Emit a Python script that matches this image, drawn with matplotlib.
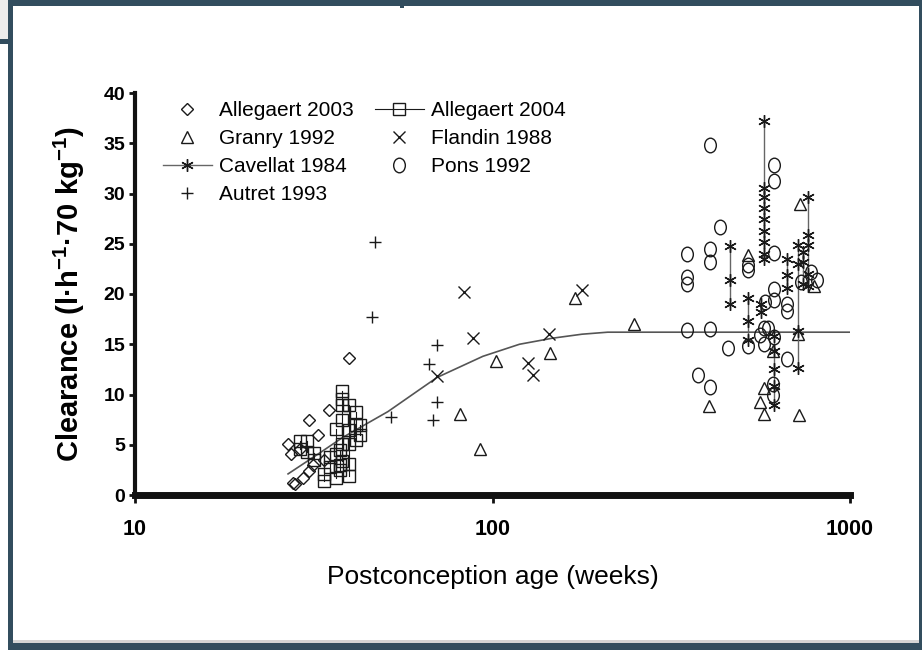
import matplotlib
matplotlib.use("Agg")
import matplotlib.pyplot as plt
import numpy as np
from matplotlib.patches import Rectangle
from matplotlib.path import Path
from matplotlib.ticker import FixedLocator, NullLocator, FixedFormatter

plt.rcParams['font.family'] = ['Liberation Sans', 'DejaVu Sans']
plt.rcParams['mathtext.default'] = 'regular'

# ---- data (postconception age in weeks, clearance in l/h/70kg) ----
allegaert2003_age = [39.6, 30.7, 34.8, 26.8, 27.7, 29.6, 32.6, 33.7, 30.7, 27.3, 29.0, 31.5, 28.0]
allegaert2003_cl = [13.6, 7.5, 8.5, 5.1, 1.2, 1.7, 6.0, 3.5, 2.4, 4.1, 4.6, 3.0, 1.1]

# repeated measures per patient, joined by a line
allegaert2004_age = [29.0, 30.2, 33.7, 38.0, 39.6, 41.4, 42.7, 36.6, 35.0, 37.5, 31.6]
allegaert2004_cl = [[5.4, 4.6], [5.4, 4.3], [1.4, 2.1], [10.3, 9.6, 9.0, 7.5, 5.1, 3.4],
                    [9.0, 6.5, 5.1, 3.1, 1.9], [8.3, 7.0, 5.5], [7.0, 6.0], [6.6, 4.1, 1.7],
                    [3.8, 2.8], [4.5, 3.0, 2.5], [4.2, 3.5]]

granry_age = [102, 81, 92, 145, 170, 248, 402, 559, 575, 575, 720, 520, 724, 795, 610, 715]
granry_cl = [13.3, 8.1, 4.6, 14.1, 19.6, 17.0, 8.9, 9.3, 10.6, 8.1, 8.0, 23.9, 29.0, 20.8, 14.3, 16.0]

flandin_age = [83, 88, 70, 126, 130, 144, 178]
flandin_cl = [20.2, 15.6, 11.8, 13.1, 11.9, 16.0, 20.4]

cavellat_age = [575, 461, 520, 565, 612, 665, 715, 765, 740]
cavellat_cl = [[37.2, 30.5, 29.7, 28.6, 27.5, 26.3, 25.2, 24.0, 23.5], [24.8, 21.4, 19.0],
               [19.6, 17.3, 15.4], [19.0, 18.2], [15.8, 14.3, 12.5, 10.8, 9.0],
               [23.5, 21.9, 20.6], [24.9, 23.0, 16.3, 12.6], [29.7, 25.9, 24.9, 22.0, 20.8],
               [24.2, 23.2, 21.0]]

pons_age = [405, 612, 612, 432, 350, 350, 350, 405, 405, 520, 612, 350, 405, 455, 520, 575, 590,
            612, 612, 612, 665, 665, 575, 665, 376, 405, 608, 608, 730, 520, 578, 560, 780, 810]
pons_cl = [34.8, 32.8, 31.2, 26.7, 24.0, 21.7, 21.0, 24.5, 23.2, 22.4, 24.1, 16.4, 16.5, 14.6, 14.8,
           16.6, 16.6, 15.7, 20.5, 19.4, 19.0, 18.3, 15.0, 13.5, 11.9, 10.7, 11.0, 10.0, 21.2, 22.9,
           19.2, 15.9, 22.2, 21.4]

autret_age = [47, 46, 70, 66.5, 70, 68, 52]
autret_cl = [25.2, 17.7, 14.9, 13.0, 9.3, 7.5, 7.8]

# maturation curve
fit_age = [26.8, 32.6, 38, 44.5, 51, 62, 70, 94, 119, 147, 178, 210, 1000]
fit_cl = [2.1, 4.1, 5.7, 7.1, 8.3, 10.4, 11.7, 13.8, 15.0, 15.6, 16.0, 16.2, 16.2]

x_ticks = [10, 100, 1000]
x_ticklabels = ['10', '100', '1000']
y_ticks = [0, 5, 10, 15, 20, 25, 30, 35, 40]

W, H = 922, 650
fig = plt.figure(figsize=(W / 100, H / 100), dpi=100)
fig.patch.set_facecolor('white')

# window frame around the figure
frame_col = '#324d5e'
def px_rect(x0, y0, x1, y1, color, z=10):
    fig.patches.append(Rectangle((x0 / W, 1 - y1 / H), (x1 - x0) / W, (y1 - y0) / H,
                                 transform=fig.transFigure, color=color, zorder=z, lw=0))

px_rect(0, 0, 8, 40, '#ececec')
px_rect(0, 39, 8, 44, frame_col)
px_rect(8, 0, 13, 650, frame_col)
px_rect(8, 0, 922, 6, frame_col)
px_rect(400, 0, 404, 8, frame_col)
px_rect(919, 0, 922, 650, frame_col)
px_rect(13, 640, 919, 643, '#d4d4d4')
px_rect(8, 643, 922, 650, frame_col)

ax = fig.add_axes([135 / W, 1 - 495 / H, 715 / W, 402 / H])
ax.set_xscale('log')
ax.set_xlim(10, 1000)
ax.set_ylim(0, 40)

mk = dict(markerfacecolor='none', markeredgecolor='#1a1a1a', markeredgewidth=1.0)

ax.plot(fit_age, fit_cl, color='#555555', lw=1.2, zorder=2)

h_a03, = ax.plot(allegaert2003_age, allegaert2003_cl, ls='none', marker='D', ms=5.8, **mk)

h_a04 = None
for age, vals in zip(allegaert2004_age, allegaert2004_cl):
    h, = ax.plot([age] * len(vals), vals, color='#1a1a1a', lw=0.8, marker='s', ms=9, **mk)
    h_a04 = h_a04 or h

h_gr, = ax.plot(granry_age, granry_cl, ls='none', marker='^', ms=8.5, **mk)
h_fl, = ax.plot(flandin_age, flandin_cl, ls='none', marker='x', ms=8.5,
                color='#1a1a1a', markeredgewidth=1.0)

h_cv = None
for age, vals in zip(cavellat_age, cavellat_cl):
    h, = ax.plot([age] * len(vals), vals, color='#666666', lw=1.0, marker=(6, 2, 0), ms=9,
                 markeredgecolor='#1a1a1a', markeredgewidth=1.0)
    h_cv = h_cv or h

circ = Path.unit_circle()
oval = Path(circ.vertices * np.array([0.8, 1.0]), circ.codes)
h_po, = ax.plot(pons_age, pons_cl, ls='none', marker=oval, ms=10.5, **mk)

h_au, = ax.plot(autret_age, autret_cl, ls='none', marker='+', ms=9,
                color='#1a1a1a', markeredgewidth=1.0)

# axes styling
for s in ['top', 'right']:
    ax.spines[s].set_visible(False)
ax.spines['left'].set_linewidth(3)
ax.spines['bottom'].set_linewidth(5)
ax.spines['left'].set_color('#111111')
ax.spines['bottom'].set_color('#111111')
ax.spines['bottom'].set_capstyle('projecting')

ax.xaxis.set_major_locator(FixedLocator(x_ticks))
ax.xaxis.set_major_formatter(FixedFormatter(x_ticklabels))
ax.xaxis.set_minor_locator(NullLocator())
ax.set_yticks(y_ticks)
ax.tick_params(axis='x', direction='out', length=6, width=2, pad=11,
               labelsize=15.5, color='#111111')
ax.tick_params(axis='y', direction='out', length=4, width=2, pad=3,
               labelsize=14, color='#111111')
for lab in ax.get_xticklabels() + ax.get_yticklabels():
    lab.set_fontweight('bold')

ax.set_xlabel('Postconception age (weeks)', fontsize=19, labelpad=18)
ax.set_ylabel('Clearance (l·h$^{-1}$·70 kg$^{-1}$)', fontsize=21, fontweight='bold', labelpad=12)

leg = fig.legend([h_a03, h_gr, h_cv, h_au, h_a04, h_fl, h_po],
                 ['Allegaert 2003', 'Granry 1992', 'Cavellat 1984', 'Autret 1993',
                  'Allegaert 2004', 'Flandin 1988', 'Pons 1992'],
                 ncol=2, loc='upper left', bbox_to_anchor=(163 / W, 1 - 101 / H),
                 frameon=False, fontsize=15, handlelength=2.35, handletextpad=0.35,
                 columnspacing=1.0, labelspacing=0.44, borderpad=0, borderaxespad=0)

fig.savefig('out.png', dpi=100)
